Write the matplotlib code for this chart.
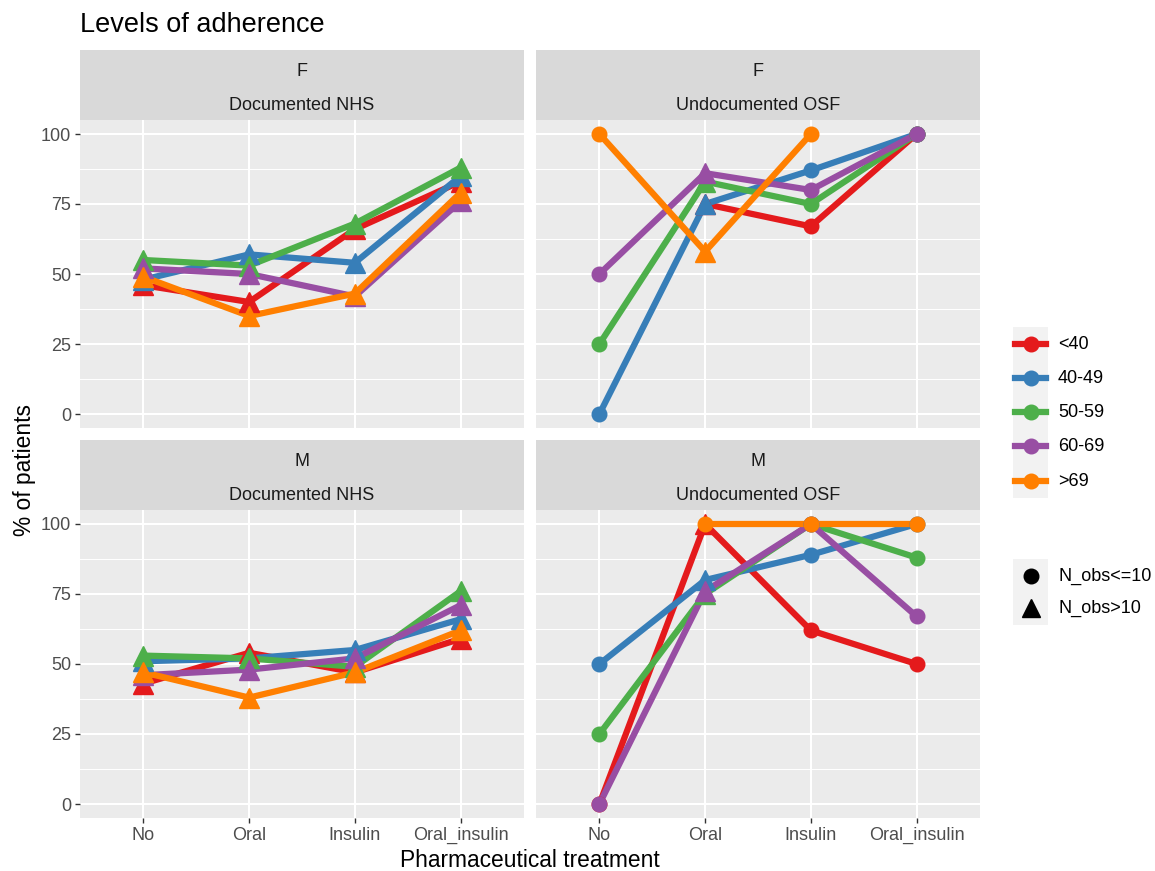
import numpy as np
import matplotlib
matplotlib.use("Agg")
import matplotlib.pyplot as plt
from matplotlib.patches import Rectangle
from matplotlib.lines import Line2D

plt.rcParams['font.family'] = ['Liberation Sans', 'DejaVu Sans']

nan = np.nan

treatments = ["No", "Oral", "Insulin", "Oral_insulin"]
age_groups = ["<40", "40-49", "50-59", "60-69", ">69"]
set1 = ['#E41A1C', '#377EB8', '#4DAF4A', '#984EA3', '#FF7F00']
shape_labels = ["N_obs<=10", "N_obs>10"]

# % of patients, rows = age groups, cols = treatments
f_nhs_pct = [
    [46, 40, 66, 83],
    [48, 57, 54, 85],
    [55, 53, 68, 88],
    [52, 50, 42, 76],
    [49, 35, 43, 79],
]
f_osf_pct = [
    [nan, 75, 67, 100],
    [0, 75, 87, 100],
    [25, 83, 75, 100],
    [50, 86, 80, 100],
    [100, 58, 100, nan],
]
m_nhs_pct = [
    [43, 54, 47, 59],
    [51, 52, 55, 66],
    [53, 52, 49, 76],
    [46, 48, 52, 71],
    [47, 38, 47, 62],
]
m_osf_pct = [
    [0, 100, 62, 50],
    [50, 80, 89, 100],
    [25, 75, 100, 88],
    [0, 76, 100, 67],
    [nan, 100, 100, 100],
]

# 1 = N_obs>10 (triangle), 0 = N_obs<=10 (circle)
f_nhs_big = [[1, 1, 1, 1]] * 5
f_osf_big = [[0, 1, 0, 0]] * 5
m_nhs_big = [[1, 1, 1, 1]] * 5
m_osf_big = [[0, 1, 0, 0], [0, 1, 0, 0], [0, 1, 0, 0], [0, 1, 0, 0], [0, 0, 0, 0]]

sexes = ["F", "F", "M", "M"]
groups = ["Documented NHS", "Undocumented OSF", "Documented NHS", "Undocumented OSF"]
panel_vals = [f_nhs_pct, f_osf_pct, m_nhs_pct, m_osf_pct]
panel_big = [f_nhs_big, f_osf_big, m_nhs_big, m_osf_big]

W, H = 1155, 871
fig = plt.figure(figsize=(W / 100, H / 100), dpi=100)


def box(x0, y0, x1, y1):
    return [x0 / W, 1 - y1 / H, (x1 - x0) / W, (y1 - y0) / H]


panel_px = [(80, 120, 524, 428), (536, 120, 980, 428),
            (80, 510, 524, 818), (536, 510, 980, 818)]
strip_px = [(80, 50, 524, 120), (536, 50, 980, 120),
            (80, 440, 524, 510), (536, 440, 980, 510)]

tick_col = '#4D4D4D'
x = np.arange(1, len(treatments) + 1)

for i in range(4):
    ax = fig.add_axes(box(*panel_px[i]))
    ax.set_facecolor('#EBEBEB')
    vals = panel_vals[i]
    big = panel_big[i]
    # lines first, then points (like geom_line + geom_point)
    for g in range(len(age_groups)):
        ax.plot(x, np.array(vals[g], float), color=set1[g], lw=4.5,
                solid_joinstyle='round', solid_capstyle='butt', zorder=2)
    for g in range(len(age_groups)):
        y = np.array(vals[g], float)
        for j in range(len(x)):
            if np.isnan(y[j]):
                continue
            if big[g][j]:
                ax.plot(x[j], y[j], marker='^', ms=14, color=set1[g], ls='none', zorder=3)
            else:
                ax.plot(x[j], y[j], marker='o', ms=10.5, color=set1[g], ls='none', zorder=3)

    ax.set_xlim(0.4, 4.6)
    ax.set_ylim(-5, 105)
    ax.set_xticks(x)
    ax.set_xticklabels(treatments)
    ax.set_yticks([0, 25, 50, 75, 100])
    ax.set_yticks([12.5, 37.5, 62.5, 87.5], minor=True)
    ax.grid(which='major', color='white', lw=1.5)
    ax.grid(which='minor', axis='y', color='white', lw=0.75)
    ax.set_axisbelow(True)
    for s in ax.spines.values():
        s.set_visible(False)
    ax.tick_params(axis='both', which='minor', length=0)
    ax.tick_params(axis='both', which='major', length=3.5, width=1, color='#333333',
                   labelcolor=tick_col, labelsize=13, pad=3)
    if i < 2:
        ax.tick_params(axis='x', length=0, labelbottom=False)
    if i % 2 == 1:
        ax.tick_params(axis='y', length=0, labelleft=False)

    sx = fig.add_axes(box(*strip_px[i]))
    sx.set_facecolor('#D9D9D9')
    sx.set_xticks([])
    sx.set_yticks([])
    for s in sx.spines.values():
        s.set_visible(False)
    sx.text(0.5, 0.7, sexes[i], ha='center', va='center', fontsize=13,
            color='#1A1A1A', transform=sx.transAxes)
    sx.text(0.5, 0.2, groups[i], ha='center', va='center', fontsize=13,
            color='#1A1A1A', transform=sx.transAxes)

fig.text(80 / W, 1 - 25 / H, "Levels of adherence", fontsize=19.5, ha='left', va='center')
fig.text(530 / W, 1 - 860 / H, "Pharmaceutical treatment", fontsize=16.4, ha='center', va='center')
fig.text(25 / W, 1 - 470 / H, "% of patients", fontsize=16.4, rotation=90, ha='center', va='center')

# legends, drawn by hand in pixel space to mimic ggplot keys
lg = fig.add_axes([0, 0, 1, 1])
lg.set_xlim(0, W)
lg.set_ylim(H, 0)
lg.axis('off')
lg.patch.set_visible(False)

key_y = [344, 378, 412, 446, 481]
lg.add_patch(Rectangle((1013, 327), 35, 171, color='#F2F2F2', lw=0))
for g, lab in enumerate(age_groups):
    lg.add_line(Line2D([1015, 1046], [key_y[g], key_y[g]], color=set1[g], lw=4.5))
    lg.plot(1030.5, key_y[g], marker='o', ms=10.5, color=set1[g])
    lg.text(1058, key_y[g], lab, fontsize=13, va='center', ha='left', color='black')

shape_y = [576, 608]
lg.add_patch(Rectangle((1013, 559), 35, 66, color='#F2F2F2', lw=0))
for k, (lab, mk, ms) in enumerate(zip(shape_labels, ['o', '^'], [10.5, 13])):
    lg.plot(1030.5, shape_y[k], marker=mk, ms=ms, color='black')
    lg.text(1058, shape_y[k], lab, fontsize=13, va='center', ha='left', color='black')

fig.savefig("out.png", dpi=100)
